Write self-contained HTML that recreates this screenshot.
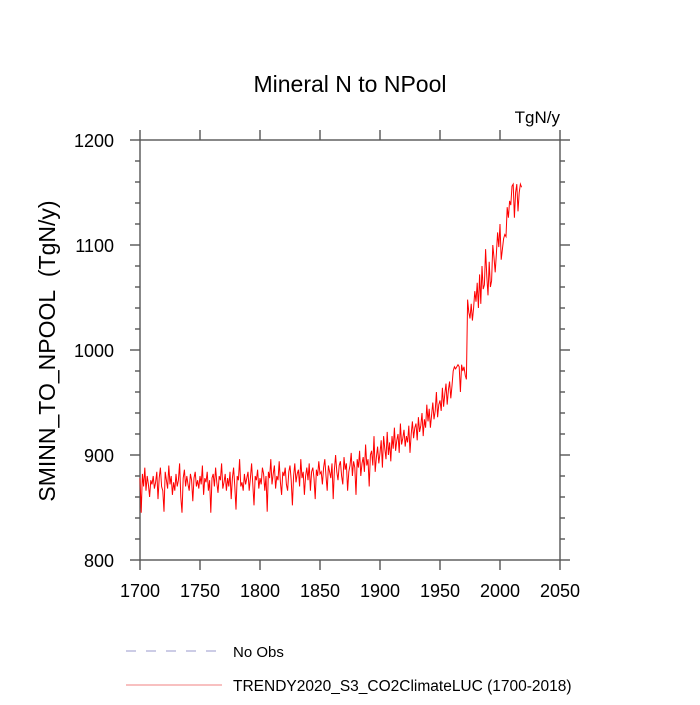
<!DOCTYPE html>
<html><head><meta charset="utf-8"><style>
body{margin:0;background:#fff;width:700px;height:700px;overflow:hidden}
svg text{font-family:"Liberation Sans",Helvetica,Arial,sans-serif;fill:#000}
</style></head><body>
<svg id="chart" width="700" height="700">
<text x="350" y="92" font-size="23" text-anchor="middle">Mineral N to NPool</text>
<text x="560" y="123" font-size="17" text-anchor="end">TgN/y</text>
<text transform="translate(55,351) rotate(-90)" font-size="23" text-anchor="middle">SMINN_TO_NPOOL&#160;&#160;(TgN/y)</text>
<g id="axes" stroke="#555" stroke-width="1.4" fill="none"></g>
<g id="labels" font-size="18"></g>
<polyline id="series" fill="none" stroke="#ff0000" stroke-width="1"/>
<g>
<line x1="126" y1="651" x2="220" y2="651" stroke="#9999cc" stroke-width="1" stroke-dasharray="10,10"/>
<text x="233" y="657" font-size="15">No Obs</text>
<line x1="126" y1="685" x2="222" y2="685" stroke="#f08080" stroke-width="1"/>
<text x="233" y="691" font-size="15.5">TRENDY2020_S3_CO2ClimateLUC (1700-2018)</text>
</g>
</svg>
<script>
const startYear = 1700;
const xTicks = [1700,1750,1800,1850,1900,1950,2000,2050];
const yTicks = [800,900,1000,1100,1200];
const values = [
878,845,882,870,888,866,880,872,860,876,
872,880,868,874,884,858,878,888,870,866,
846,884,876,868,890,872,880,862,874,866,
882,870,876,892,860,845,878,886,870,880,
872,866,882,876,856,878,884,870,876,868,
880,872,890,862,878,874,884,866,876,845,
878,882,870,888,874,864,880,876,892,868,
874,882,866,878,870,884,858,878,888,870,
848,880,876,896,870,874,866,882,872,878,
884,866,878,892,872,852,880,876,886,868,
878,872,888,882,866,880,846,884,878,896,
872,882,890,868,880,876,894,874,862,884,
880,888,872,866,884,890,876,852,880,892,
874,882,886,870,896,878,884,862,880,888,
876,892,866,884,888,878,858,886,880,894,
882,884,872,888,896,880,866,890,884,878,
892,858,886,900,884,876,890,894,880,872,
898,886,892,866,884,890,902,880,894,888,
862,896,888,904,880,892,898,884,910,890,
896,870,900,904,890,918,884,898,908,892,
902,914,888,918,906,896,922,900,912,894,
918,906,926,904,914,920,902,930,910,916,
924,908,918,912,928,902,920,932,916,926,
930,914,936,922,928,940,918,934,926,948,
932,944,926,938,950,934,942,960,936,948,
952,942,964,946,958,968,948,962,970,954,
966,980,984,982,984,986,984,960,986,980,
984,976,972,1048,1036,1030,1044,1028,1040,1056,
1046,1064,1040,1072,1044,1080,1058,1062,1096,1070,
1052,1084,1060,1066,1100,1088,1074,1092,1112,1098,
1120,1086,1096,1106,1110,1108,1136,1126,1142,1138,
1156,1158,1126,1150,1158,1132,1150,1158,1155
];
const X0=140,X1=560,Y0=560,Y1=140,xmin=1700,xmax=2050,ymin=800,ymax=1200;
const xs=v=>X0+(v-xmin)/(xmax-xmin)*(X1-X0);
const ys=v=>Y0-(v-ymin)/(ymax-ymin)*(Y0-Y1);
const NS='http://www.w3.org/2000/svg';
const axes=document.getElementById('axes'),labels=document.getElementById('labels');
function ln(x1,y1,x2,y2,name){const l=document.createElementNS(NS,'line');
l.setAttribute('x1',x1);l.setAttribute('y1',y1);l.setAttribute('x2',x2);l.setAttribute('y2',y2);


axes.appendChild(l);}
function tx(x,y,s,anchor,name){const t=document.createElementNS(NS,'text');
t.setAttribute('x',x);t.setAttribute('y',y);t.setAttribute('text-anchor',anchor);t.textContent=s;


labels.appendChild(t);}
const fr=document.createElementNS(NS,'rect');
fr.setAttribute('x',X0);fr.setAttribute('y',Y1);fr.setAttribute('width',X1-X0);fr.setAttribute('height',Y0-Y1);


axes.appendChild(fr);
xTicks.forEach(v=>{const x=xs(v);ln(x,Y0,x,Y0+10,'x-tick');ln(x,Y1,x,Y1-10,'x-tick-top');tx(x,Y0+37,v,'middle','x-tick-label');});
yTicks.forEach(v=>{const y=ys(v);ln(X0-10,y,X0,y,'y-tick');ln(X1,y,X1+10,y,'y-tick-right');tx(X0-26,y+7,v,'end','y-tick-label');});
for(let v=ymin;v<=ymax;v+=20){if(v%100===0)continue;const y=ys(v);ln(X0-5,y,X0,y,'y-minor-tick');ln(X1,y,X1+5,y,'y-minor-tick-right');}
document.getElementById('series').setAttribute('points',values.map((v,i)=>xs(startYear+i).toFixed(2)+','+ys(v).toFixed(2)).join(' '));
</script>
</body></html>
